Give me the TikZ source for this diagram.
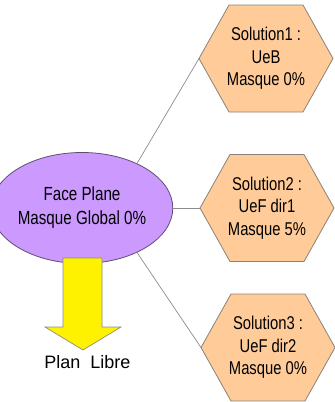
\documentclass[tikz,border=0pt]{standalone}
\usepackage{fontspec}
\setmainfont{Liberation Sans}
\newfontfamily\narrowfont[FakeStretch=0.8]{Liberation Sans}
\usetikzlibrary{shapes.geometric}
\definecolor{purplefill}{HTML}{CC99FF}
\definecolor{purpleline}{HTML}{5E4E70}
\definecolor{peach}{HTML}{FFCC99}
\definecolor{hexline}{HTML}{8A8178}
\definecolor{conncol}{HTML}{8C8C8C}
\definecolor{arrowline}{HTML}{8C8C80}
\begin{document}
\begin{tikzpicture}[x=1pt,y=-1pt,
  hexstyle/.style={fill=peach,draw=hexline,line width=0.8pt,line join=miter},
  hextext/.style={align=center,inner sep=0pt,font=\narrowfont\fontsize{18.5}{22.5}\selectfont},
  ellstyle/.style={ellipse,minimum width=140pt,minimum height=111pt,inner sep=0pt,
    fill=purplefill,draw=purpleline,line width=0.8pt,align=center,
    font=\narrowfont\fontsize{19}{24}\selectfont},
  conn/.style={draw=conncol,line width=0.7pt},
  hexpic/.pic={\path[hexstyle] (-67,0) -- (-37,-53.5) -- (37,-53.5) -- (67,0) -- (37,53.5) -- (-37,53.5) -- cycle;}
]
\useasboundingbox (0,0) rectangle (335,402);
% hexagons
\pic at (266,58.5) {hexpic};
\pic at (267,208) {hexpic};
\pic at (268,347.5) {hexpic};
\coordinate (h1l) at (199,58.5);
\coordinate (h2l) at (200,208);
\coordinate (h3l) at (201,347.5);
\node[hextext] (s1) at (266,58.5) {Solution1 :\\UeB\\Masque 0\%};
\node[hextext] (s2) at (267,208) {Solution2 :\\UeF dir1\\Masque 5\%};
\node[hextext] (s3) at (268,347.5) {Solution3 :\\UeF dir2\\Masque 0\%};
% ellipse
\node[ellstyle] (fp) at (82,208) {Face Plane\\Masque Global 0\%};
% connectors
\draw[conn] (fp.39) -- (h1l);
\draw[conn] (fp.0) -- (h2l);
\draw[conn] (fp.-39) -- (h3l);
% arrow
\path[fill=yellow,draw=arrowline,line width=0.7pt,line join=miter]
  (63,258) -- (102,258) -- (102,327) -- (121,327) -- (83,350) -- (45,327) -- (63,327) -- cycle;
\node[anchor=base,inner sep=0pt,font=\fontsize{18}{21}\selectfont] (pl) at (87.5,368) {Plan\ \ Libre};
\end{tikzpicture}
\end{document}
